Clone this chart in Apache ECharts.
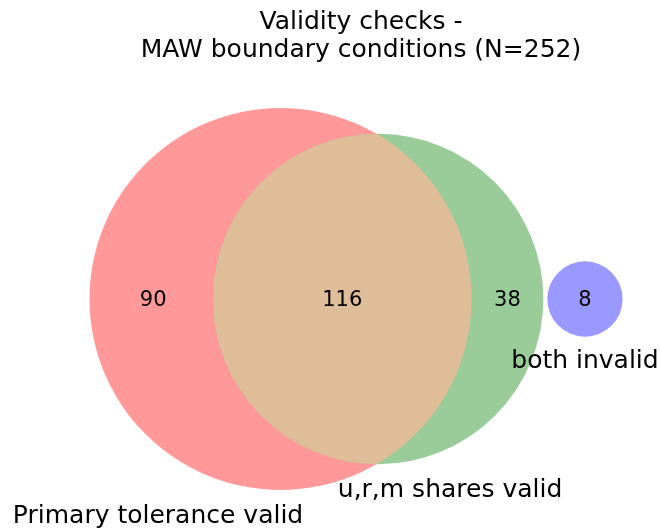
<!DOCTYPE html>
<html>
<head>
<meta charset="utf-8">
<script src="https://cdn.jsdelivr.net/npm/echarts@6/dist/echarts.min.js"></script>
<style>
html,body{margin:0;padding:0;background:#fff}
#chart{width:660px;height:529px}
</style>
</head>
<body>
<div id="chart"></div>
<script>
// subset counts: A only, A and B, B only, C (disjoint)
var setNames = ['Primary tolerance valid', 'u,r,m shares valid', 'both invalid'];
var regionNames = ['A only', 'A and B', 'B only', 'C only'];
var regionCounts = [90, 116, 38, 8];
var titleLines = ['Validity checks -', 'MAW boundary conditions (N=252)'];

// colours like matplotlib-venn (r, g, b with alpha .4 on white)
var setColors = ['#ff9999', '#99cc99', '#9999ff'];
var overlapColor = '#e0bd99';

var S = 13.31; // px per unit, radius = sqrt(count)
var W = 660, H = 529;
var originX = 280.5, originY = 299; // pixel of circle A centre
var textNudge = 2; // canvas 'middle' sits a bit high for DejaVu

var sizeA = regionCounts[0] + regionCounts[1];
var sizeB = regionCounts[1] + regionCounts[2];
var sizeC = regionCounts[3];
var rA = Math.sqrt(sizeA), rB = Math.sqrt(sizeB), rC = Math.sqrt(sizeC);

function lensArea(d){
    var a1 = Math.acos((d*d + rA*rA - rB*rB) / (2*d*rA));
    var a2 = Math.acos((d*d + rB*rB - rA*rA) / (2*d*rB));
    var k = Math.sqrt((-d+rA+rB)*(d+rA-rB)*(d-rA+rB)*(d+rA+rB));
    return rA*rA*a1 + rB*rB*a2 - 0.5*k;
}
// find centre distance so the overlap area matches the shared count
var lo = Math.abs(rA - rB) + 1e-6, hi = rA + rB - 1e-6;
var target = Math.PI * regionCounts[1];
for(var i=0;i<60;i++){
    var mid = (lo + hi) / 2;
    if(lensArea(mid) > target){ lo = mid; } else { hi = mid; }
}
var d = (lo + hi) / 2;
var gapC = 0.3;
var cxC = d + rB + gapC + rC;

var circles = [[0, 0, rA, 0], [d, 0, rB, 1], [cxC, 0, rC, 2]];
var labelX = [(-rA + d - rB) / 2 + 0.15, (d - rB + rA) / 2, (rA + d + rB) / 2, cxC];
var regionLabels = regionCounts.map(function(v, i){ return [labelX[i], 0, v]; });

// set label anchors: shift from circle centre (x) and below the bottom (y), units
var setLabelShift = [[-9.2, 1.82], [5.4, 1.81], [0, 1.7]];
var setLabels = circles.map(function(c, i){
    return [c[0] + setLabelShift[i][0], c[1] - c[2] - setLabelShift[i][1], i];
});

function textStyle(txt, size){
    return {text: txt, font: size + 'px "DejaVu Sans"', fill: '#000',
        textAlign: 'center', textVerticalAlign: 'middle', align: 'center', verticalAlign: 'middle'};
}

var chart = echarts.init(document.getElementById('chart'));
var option = {
    animation: false,
    grid: {left: 0, right: 0, top: 0, bottom: 0},
    xAxis: {type: 'value', show: false, min: -originX / S, max: (W - originX) / S},
    yAxis: {type: 'value', show: false, min: -(H - originY) / S, max: originY / S},
    graphic: [
        {type: 'text', x: 361, y: 20.5 + textNudge, style: textStyle(titleLines[0], 25)},
        {type: 'text', x: 361, y: 48.5 + textNudge, style: textStyle(titleLines[1], 25)}
    ],
    series: [
        {
            type: 'custom',
            name: 'sets',
            data: circles,
            renderItem: function(params, api){
                var c = api.coord([api.value(0), api.value(1)]);
                var r = api.size([api.value(2), 0])[0];
                return {type: 'circle', shape: {cx: c[0], cy: c[1], r: r}, style: {fill: setColors[api.value(3)]}};
            }
        },
        {
            type: 'custom',
            name: 'overlap',
            data: [[0, d, rA, rB]],
            renderItem: function(params, api){
                var dd = api.value(1), ra = api.value(2), rb = api.value(3);
                var a = (dd*dd + ra*ra - rb*rb) / (2*dd);
                var h = Math.sqrt(ra*ra - a*a);
                var p1 = api.coord([a, h]);
                var p2 = api.coord([a, -h]);
                var RA = api.size([ra, 0])[0];
                var RB = api.size([rb, 0])[0];
                var largeA = a < 0 ? 1 : 0;
                var largeB = (dd - a) < 0 ? 1 : 0;
                var path = 'M' + p1[0] + ' ' + p1[1] +
                    ' A' + RA + ' ' + RA + ' 0 ' + largeA + ' 1 ' + p2[0] + ' ' + p2[1] +
                    ' A' + RB + ' ' + RB + ' 0 ' + largeB + ' 1 ' + p1[0] + ' ' + p1[1] + ' Z';
                return {type: 'path', shape: {pathData: path}, style: {fill: overlapColor}};
            }
        },
        {
            type: 'custom',
            name: 'counts',
            data: regionLabels,
            renderItem: function(params, api){
                var p = api.coord([api.value(0), api.value(1)]);
                return {type: 'text', x: p[0], y: p[1] + textNudge, style: textStyle(String(api.value(2)), 21)};
            }
        },
        {
            type: 'custom',
            name: 'setNames',
            data: setLabels,
            renderItem: function(params, api){
                var p = api.coord([api.value(0), api.value(1)]);
                return {type: 'text', x: p[0], y: p[1] + textNudge, style: textStyle(setNames[api.value(2)], 25)};
            }
        }
    ]
};
chart.setOption(option);
</script>
</body>
</html>
